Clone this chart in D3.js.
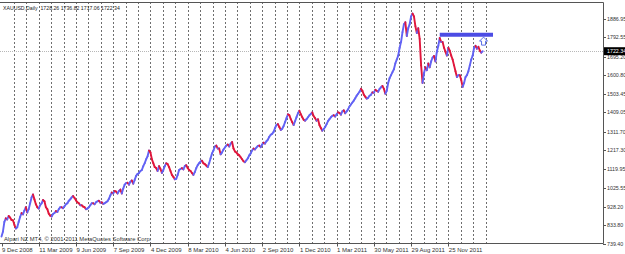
<!DOCTYPE html>
<html>
<head>
<meta charset="utf-8">
<script src="https://cdn.jsdelivr.net/npm/d3@7"></script>
<style>
  body { margin: 0; background: #fff; }
  svg text { font-family: 'Liberation Sans', Arial, sans-serif; }
</style>
</head>
<body>
<svg id="chart"></svg>
<script>
// XAUUSD closes, two samples per week, starting 9 Dec 2008
const closes = [
  775, 800, 850, 868, 862, 880, 872, 860, 858, 835,
  816, 822, 850, 875, 895, 888, 908, 925, 898, 915,
  945, 975, 990, 965, 940, 925, 918, 935, 945, 962,
  955, 925, 915, 892, 882, 878, 890, 895, 905, 900,
  915, 925, 925, 920, 930, 940, 945, 958, 965, 975,
  982, 972, 960, 950, 945, 935, 935, 928, 925, 915,
  918, 925, 935, 945, 945, 940, 950, 955, 958, 948,
  950, 942, 945, 950, 955, 968, 985, 1000, 995, 1008,
  1005, 995, 1008, 1015, 995, 1020, 1040, 1048, 1050, 1040,
  1055, 1062, 1045, 1065, 1085, 1095, 1100, 1110, 1115, 1135,
  1150, 1170, 1185, 1215, 1205, 1170, 1150, 1130, 1125, 1110,
  1135, 1120, 1100, 1115, 1135, 1150, 1145, 1130, 1110, 1090,
  1080, 1068, 1070, 1090, 1115, 1120, 1125, 1118, 1135, 1140,
  1125, 1115, 1110, 1100, 1090, 1105, 1125, 1140, 1150, 1158,
  1163, 1150, 1145, 1138, 1130, 1150, 1175, 1200, 1215, 1235,
  1240, 1225, 1225, 1195, 1205, 1220, 1230, 1240, 1245, 1235,
  1250, 1258, 1225, 1210, 1205, 1195, 1190, 1180, 1170, 1160,
  1155, 1165, 1175, 1190, 1200, 1215, 1225, 1220, 1230, 1238,
  1240, 1232, 1245, 1255, 1250, 1262, 1270, 1285, 1295, 1300,
  1310, 1330, 1345, 1350, 1335, 1320, 1326, 1340, 1360, 1380,
  1400, 1395, 1375, 1360, 1345, 1365, 1385, 1405, 1418, 1400,
  1385, 1372, 1367, 1375, 1385, 1395, 1402, 1410, 1390, 1380,
  1367, 1375, 1345, 1330, 1316, 1325, 1335, 1350, 1365, 1375,
  1385, 1392, 1395, 1388, 1400, 1410, 1407, 1398, 1415, 1420,
  1405, 1415, 1425, 1440, 1450, 1460, 1470, 1482, 1495, 1505,
  1515, 1530, 1520, 1500, 1490, 1480, 1484, 1495, 1500, 1512,
  1510, 1525, 1520, 1515, 1530, 1538, 1545, 1530, 1505, 1520,
  1560, 1585, 1600, 1615, 1630, 1660, 1680, 1700, 1740, 1770,
  1820, 1860, 1870, 1800, 1840, 1860, 1900, 1915, 1900, 1850,
  1815, 1840, 1785, 1650, 1560, 1610, 1640, 1625, 1660, 1640,
  1670, 1690, 1698, 1670, 1720, 1750, 1790, 1770, 1770, 1740,
  1720, 1700, 1740, 1725, 1700, 1680, 1650, 1620, 1590, 1600,
  1600, 1575, 1540, 1560, 1590, 1600, 1620, 1650, 1680, 1700,
  1740, 1750, 1735, 1745, 1725, 1715, 1722
];

const dateLabels = [
  '9 Dec 2008', '11 Mar 2009', '9 Jun 2009', '7 Sep 2009', '4 Dec 2009',
  '8 Mar 2010', '4 Jun 2010', '2 Sep 2010', '1 Dec 2010', '1 Mar 2011',
  '30 May 2011', '29 Aug 2011', '25 Nov 2011'
];
const priceTicks = [
  1886.95, 1792.55, 1695.2, 1600.8, 1503.45, 1409.05, 1311.7,
  1217.3, 1119.95, 1025.55, 928.2, 833.8, 739.4
];
const lastPrice = 1722.34;
const titleText = 'XAUUSD,Daily  1728.26 1736.82 1717.06 1722.34';
const copyright = 'Alpari NZ MT4, \u00a9 2001-2011 MetaQuotes Software Corp.';

// horizontal line drawn by user (weeks, price) and arrow mark
const hLine = { from: 153, to: 171.6, price: 1807 };
const arrowMark = { week: 168.3, price: 1774 };

const W = 625, H = 254;
const plotRight = 603, plotBottom = 243.5, plotTop = 2;
const weeksPerLabel = 13;
const samplesPerWeek = 2;

const svg = d3.select('#chart').attr('width', W).attr('height', H);

const x = d3.scaleLinear().domain([0, 210]).range([1.5, plotRight]);
const y = d3.scaleLinear().domain([739.4, 1886.95]).range([plotBottom, 19]);

// vertical dotted grid, three per date label
const gridWeeks = d3.range(1, 40).map(k => k * weeksPerLabel / 3);
svg.append('g')
  .selectAll('line')
  .data(gridWeeks)
  .join('line')
  .attr('x1', d => Math.round(x(d)) + 0.5)
  .attr('x2', d => Math.round(x(d)) + 0.5)
  .attr('y1', plotTop)
  .attr('y2', plotBottom)
  .attr('stroke', '#6e6e6e')
  .attr('stroke-width', 1)
  .attr('stroke-dasharray', '2,2');

// last price line
svg.append('line')
  .attr('x1', 0)
  .attr('x2', plotRight)
  .attr('y1', Math.round(y(lastPrice)) + 0.5)
  .attr('y2', Math.round(y(lastPrice)) + 0.5)
  .attr('stroke', '#b8b8b8')
  .attr('stroke-dasharray', '1,1');

// price segments, blue up / red down
const segs = closes.slice(1).map((c, i) => ({ i: i + 1, prev: closes[i], c }));
svg.append('g')
  .selectAll('line')
  .data(segs)
  .join('line')
  .attr('x1', d => x((d.i - 1) / samplesPerWeek))
  .attr('x2', d => x(d.i / samplesPerWeek))
  .attr('y1', d => y(d.prev))
  .attr('y2', d => y(d.c))
  .attr('stroke', d => d.c >= d.prev ? '#6262f4' : '#e0163c')
  .attr('stroke-width', 1.9)
  .attr('stroke-linecap', 'round');

// user horizontal line
svg.append('line')
  .attr('x1', x(hLine.from))
  .attr('x2', x(hLine.to))
  .attr('y1', y(hLine.price))
  .attr('y2', y(hLine.price))
  .attr('stroke', '#4c4ce4')
  .attr('stroke-width', 4);

// up arrow mark
const ax = x(arrowMark.week), ay = y(arrowMark.price);
svg.append('path')
  .attr('d', `M${ax},${ay - 4} L${ax + 4},${ay} L${ax + 2},${ay} L${ax + 2},${ay + 4} L${ax - 2},${ay + 4} L${ax - 2},${ay} L${ax - 4},${ay} Z`)
  .attr('fill', '#fff')
  .attr('stroke', '#5a6ee8')
  .attr('stroke-width', 1);

// frame
svg.append('path')
  .attr('d', `M0,${plotTop + 0.5} H${plotRight + 0.5} V${plotBottom} H0`)
  .attr('fill', 'none')
  .attr('stroke', '#555')
  .attr('stroke-width', 1);

// right price axis
const yAxis = svg.append('g');
yAxis.selectAll('line')
  .data(priceTicks)
  .join('line')
  .attr('x1', plotRight)
  .attr('x2', plotRight + 3)
  .attr('y1', d => Math.round(y(d)) + 0.5)
  .attr('y2', d => Math.round(y(d)) + 0.5)
  .attr('stroke', '#555');
yAxis.selectAll('text')
  .data(priceTicks)
  .join('text')
  .attr('x', plotRight + 4)
  .attr('y', d => y(d) + 2)
  .attr('font-size', 5.3)
  .attr('fill', '#333')
  .text(d => d.toFixed(2));

// last price box
yAxis.append('rect')
  .attr('x', plotRight + 1)
  .attr('y', y(lastPrice) - 4)
  .attr('width', W - plotRight)
  .attr('height', 8)
  .attr('fill', '#000');
yAxis.append('text')
  .attr('x', plotRight + 4)
  .attr('y', y(lastPrice) + 2)
  .attr('font-size', 5.3)
  .attr('fill', '#fff')
  .text(lastPrice.toFixed(2));

// bottom date axis
const xAxis = svg.append('g');
xAxis.selectAll('line')
  .data(dateLabels)
  .join('line')
  .attr('x1', (d, i) => Math.round(x(i * weeksPerLabel)) + 0.5)
  .attr('x2', (d, i) => Math.round(x(i * weeksPerLabel)) + 0.5)
  .attr('y1', plotBottom)
  .attr('y2', plotBottom + 3)
  .attr('stroke', '#555');
xAxis.selectAll('text')
  .data(dateLabels)
  .join('text')
  .attr('x', (d, i) => x(i * weeksPerLabel) + 0.5)
  .attr('y', 252)
  .attr('font-size', 6)
  .attr('fill', '#333')
  .text(d => d);

// header and watermark
svg.append('text')
  .attr('x', 3)
  .attr('y', 10)
  .attr('font-size', 5.2)
  .attr('fill', '#222')
  .attr('xml:space', 'preserve')
  .text(titleText);
svg.append('text')
  .attr('x', 4)
  .attr('y', 241)
  .attr('font-size', 5.8)
  .attr('fill', '#333')
  .text(copyright);
</script>
</body>
</html>
